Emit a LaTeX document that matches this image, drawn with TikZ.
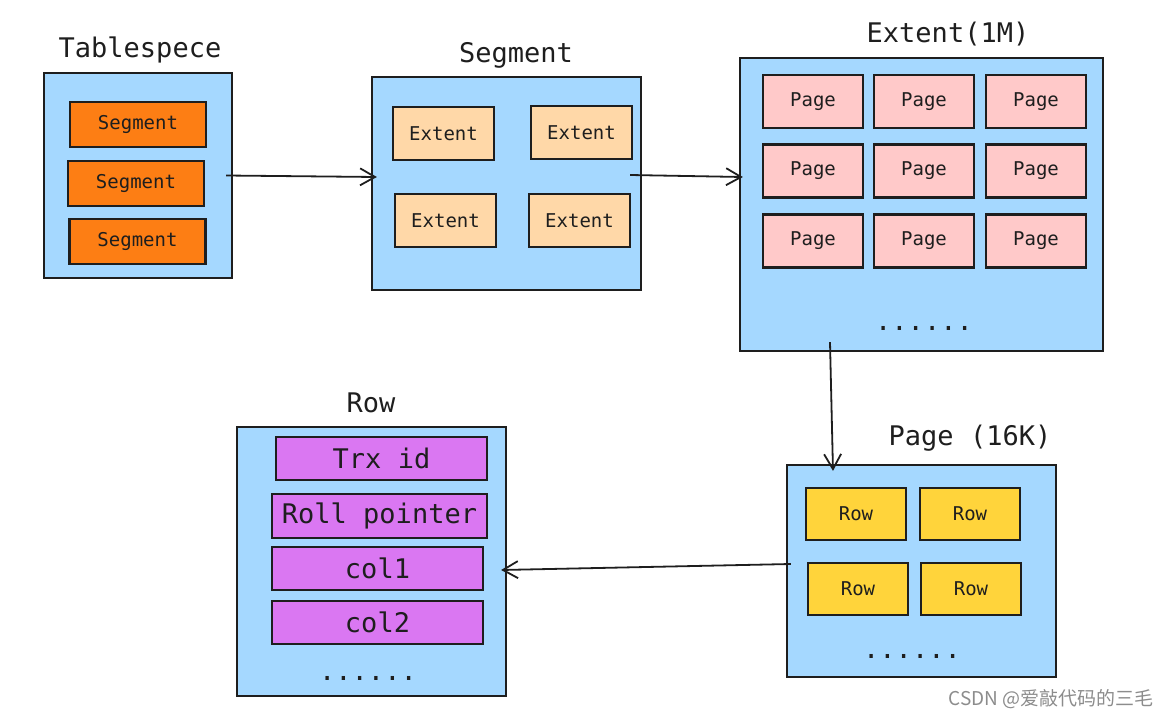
\documentclass[tikz,border=0pt]{standalone}
\usepackage{fontspec}
\setmonofont{DejaVu Sans Mono}
\newfontfamily\cjk{Noto Sans CJK SC}
\usetikzlibrary{arrows.meta}
\definecolor{ink}{HTML}{1E1E1E}
\definecolor{skyblue}{HTML}{A5D8FF}
\definecolor{segorange}{HTML}{FD7E14}
\definecolor{extpeach}{HTML}{FFD8A8}
\definecolor{pagepink}{HTML}{FFC9C9}
\definecolor{rowyellow}{HTML}{FFD43B}
\definecolor{fieldviolet}{HTML}{DA77F2}
\tikzset{
  holder/.style={draw=ink, fill=skyblue, line width=2.2pt, inner sep=0pt},
  item/.style={draw=ink, line width=2.2pt, inner sep=0pt, font=\ttfamily\fontsize{19}{21}\selectfont, text=ink},
  bigitem/.style={item, font=\ttfamily\fontsize{27}{30}\selectfont},
  title/.style={font=\ttfamily\fontsize{27}{30}\selectfont, text=ink},
  link/.style={draw=ink, line width=1.8pt, -{Straight Barb[length=15pt,width=17pt,line width=1.8pt]}}
}
\begin{document}
\begin{tikzpicture}[x=1pt, y=-1pt]
    \useasboundingbox (0,0) rectangle (1171,718);

    % Tablespece
    \node[title] (tbsT) at (140,50) {Tablespece};
    \node[holder, minimum width=188pt, minimum height=205pt] (tbs) at (138,175.5) {};
    \node[item, fill=segorange, minimum width=136pt, minimum height=45pt] (sg1) at (138,124.5) {Segment};
    \node[item, fill=segorange, minimum width=136pt, minimum height=45pt] (sg2) at (136,183.5) {Segment};
    \node[item, fill=segorange, minimum width=136pt, minimum height=45pt] (sg3) at (137.5,241.5) {Segment};

    % Segment
    \node[title] (sgmT) at (516,55) {Segment};
    \node[holder, minimum width=269pt, minimum height=213pt] (sgm) at (506.5,183.5) {};
    \node[item, fill=extpeach, minimum width=101pt, minimum height=53pt] (ex1) at (443.5,133.5) {Extent};
    \node[item, fill=extpeach, minimum width=101pt, minimum height=53pt] (ex2) at (581.5,132.5) {Extent};
    \node[item, fill=extpeach, minimum width=101pt, minimum height=53pt] (ex3) at (445.5,220.5) {Extent};
    \node[item, fill=extpeach, minimum width=101pt, minimum height=53pt] (ex4) at (579.5,220.5) {Extent};

    % Extent(1M)
    \node[title] (extT) at (948,34) {Extent(1M)};
    \node[holder, minimum width=363pt, minimum height=293pt] (ext) at (921.5,204.5) {};
    \foreach \c/\x in {1/813,2/924,3/1036}
      \foreach \r/\y in {1/101.5,2/171,3/241}
        \node[item, fill=pagepink, minimum width=100pt, minimum height=53pt] (pg\r\c) at (\x,\y) {Page};
    \node[title] (extD) at (924,328) {......};

    % Page (16K)
    \node[title] (pgT) at (970,438) {Page (16K)};
    \node[holder, minimum width=269pt, minimum height=212pt] (pg) at (921.5,571) {};
    \node[item, fill=rowyellow, minimum width=100pt, minimum height=52pt] (rw1) at (856,514) {Row};
    \node[item, fill=rowyellow, minimum width=100pt, minimum height=52pt] (rw2) at (970,514) {Row};
    \node[item, fill=rowyellow, minimum width=100pt, minimum height=52pt] (rw3) at (858,589) {Row};
    \node[item, fill=rowyellow, minimum width=100pt, minimum height=52pt] (rw4) at (971,589) {Row};
    \node[title] (pgD) at (912,656) {......};

    % Row
    \node[title] (rowT) at (371,403) {Row};
    \node[holder, minimum width=269pt, minimum height=269pt] (row) at (371.5,561.5) {};
    \node[bigitem, fill=fieldviolet, minimum width=211pt, minimum height=43pt] (trx) at (381.5,458.5) {Trx id};
    \node[bigitem, fill=fieldviolet, minimum width=215pt, minimum height=44pt] (roll) at (379.5,516) {Roll pointer};
    \node[bigitem, fill=fieldviolet, minimum width=211pt, minimum height=43pt] (col1) at (377.5,568.5) {col1};
    \node[bigitem, fill=fieldviolet, minimum width=211pt, minimum height=43pt] (col2) at (377.5,622.5) {col2};
    \node[title] (rowD) at (368,678) {......};

    % arrows
    \draw[link] ([xshift=-7pt]tbs.east) -- ([xshift=6pt,yshift=6.5pt]sgm.west);
    \draw[link] ([xshift=-12pt,yshift=8.5pt]sgm.east) -- ([xshift=4pt,yshift=27.5pt]ext.west);
    \draw[link] ([xshift=-91.5pt,yshift=10pt]ext.south) -- ([xshift=-88.5pt,yshift=-7pt]pg.north);
    \draw[link] ([xshift=5pt,yshift=7pt]pg.west) -- ([xshift=-6pt,yshift=-8.5pt]row.east);

    \node[font=\cjk\fontsize{19}{21}\selectfont, text=black!45] (mark) at (1051,699) {CSDN @爱敲代码的三毛};
\end{tikzpicture}
\end{document}
